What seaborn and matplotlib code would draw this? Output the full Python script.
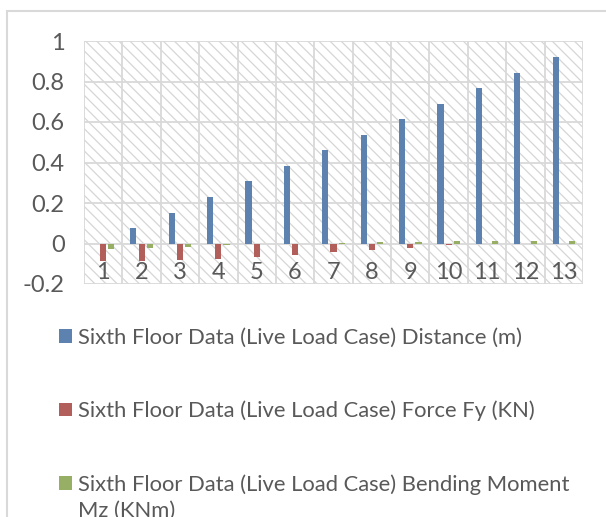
import numpy as np
import pandas as pd
import matplotlib
matplotlib.use("Agg")
import matplotlib.pyplot as plt
import seaborn as sns
from matplotlib.patches import Rectangle
from matplotlib.ticker import FuncFormatter

# values
floors = [str(i) for i in range(1, 14)]
distance = [0.0, 0.077, 0.153, 0.230, 0.307, 0.383, 0.460, 0.537, 0.613, 0.690, 0.767, 0.843, 0.920]
force_fy = [-0.087, -0.086, -0.082, -0.075, -0.067, -0.058, -0.044, -0.031, -0.020, -0.006, -0.002, 0.0, 0.0]
moment_mz = [-0.027, -0.020, -0.015, -0.006, -0.002, 0.0, 0.002, 0.005, 0.007, 0.010, 0.010, 0.012, 0.013]
series_names = [
    "Sixth Floor Data (Live Load Case) Distance (m)",
    "Sixth Floor Data (Live Load Case) Force Fy (KN)",
    "Sixth Floor Data (Live Load Case) Bending Moment",
]
label_wrap = "Mz (KNm)"
y_ticks = [-0.2, 0, 0.2, 0.4, 0.6, 0.8, 1]
colors = ["#4F81BD", "#C0504D", "#9BBB59"]

df = pd.DataFrame({
    "floor": floors * 3,
    "value": distance + force_fy + moment_mz,
    "series": [series_names[0]] * 13 + [series_names[1]] * 13 + [series_names[2]] * 13,
})

sns.set_theme(style="white")
plt.rcParams["font.family"] = ["Lato", "DejaVu Sans"]
text_col = "#595959"
grid_col = "#D9D9D9"
leg_fs = 15.8

W, H = 606, 517
fig = plt.figure(figsize=(W / 100, H / 100), dpi=100)
ax = fig.add_axes([84 / W, 1 - 284 / H, (583 - 84) / W, (284 - 41) / H])

sns.barplot(data=df, x="floor", y="value", hue="series", palette=colors,
            width=0.64, linewidth=0, ax=ax)
handles, labels = ax.get_legend_handles_labels()
ax.get_legend().remove()

# narrow the bars a little so there is a gap between them, like Excel
for p in ax.patches:
    cx = p.get_x() + p.get_width() / 2
    p.set_width(0.16)
    p.set_x(cx - 0.08)
    p.set_zorder(3)

# hatched plot area
ax.set_facecolor("white")
plt.rcParams["hatch.linewidth"] = 0.9
ax.add_patch(Rectangle((0, 0), 1, 1, transform=ax.transAxes, facecolor="white",
                       edgecolor="#D6D6D6", hatch="\\\\\\", linewidth=0, zorder=0.1))

ax.set_xlim(-0.5, 12.5)
ax.set_ylim(-0.2, 1)
ax.set_yticks(y_ticks)
ax.yaxis.set_major_formatter(FuncFormatter(lambda v, _: f"{round(v, 1):g}"))
ax.set_xticks(np.arange(-0.5, 13, 1), minor=True)
ax.grid(True, axis="y", which="major", color=grid_col, lw=1.3, zorder=1)
ax.grid(True, axis="x", which="minor", color=grid_col, lw=1.3, zorder=1)
ax.grid(False, axis="x", which="major")
ax.set_axisbelow(False)
for s in ax.spines.values():
    s.set_visible(False)

ax.tick_params(axis="y", length=0, pad=14, labelsize=17, labelcolor=text_col)
ax.tick_params(axis="x", which="both", length=0, pad=-16, labelsize=17, labelcolor=text_col)
ax.set_xlabel("")
ax.set_ylabel("")

# chart border
fig.add_artist(Rectangle((7 / W, -0.2), 1.2, 1.2 - 11 / H, transform=fig.transFigure,
                         facecolor="none", edgecolor=grid_col, linewidth=1.5))

leg = fig.legend(handles, labels, loc="upper left", bbox_to_anchor=(59 / W, 1 - 328 / H),
                 frameon=False, fontsize=leg_fs, handlelength=0.6, handleheight=0.6,
                 handletextpad=0.28, labelspacing=2.4, borderpad=0, borderaxespad=0)
for t in leg.get_texts():
    t.set_color(text_col)

fig.canvas.draw()
bb = leg.get_texts()[2].get_window_extent()
fig.text(bb.x0 / W, (bb.y0 + bb.y1) / 2 / H - 27 / H, label_wrap, fontsize=leg_fs,
         color=text_col, va="center", ha="left")

fig.savefig("out.png", dpi=100)
